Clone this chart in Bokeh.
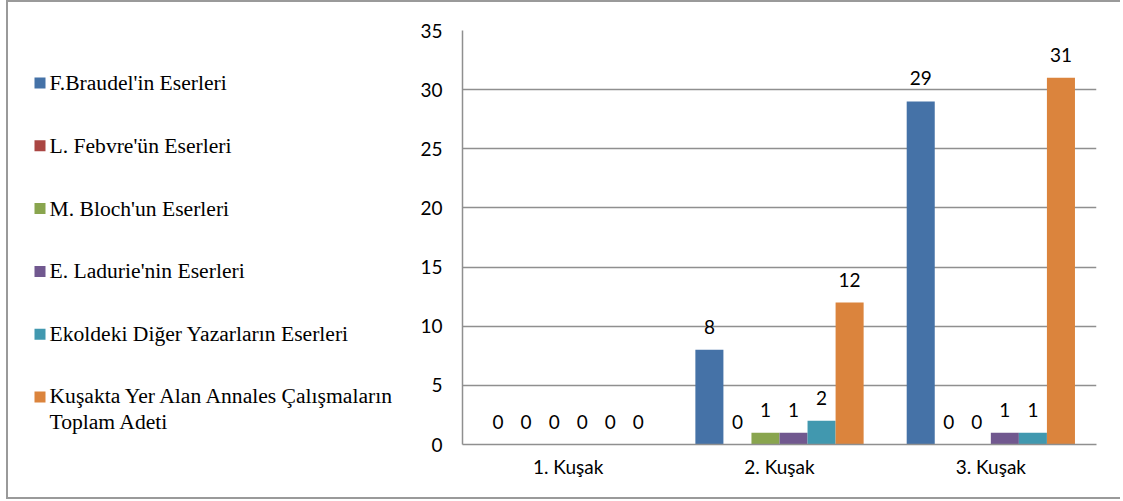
import textwrap
from bokeh.plotting import figure
from bokeh.models import ColumnDataSource, FactorRange, Range1d, FixedTicker
from bokeh.layouts import row
from bokeh.transform import dodge
from bokeh.core.properties import value
from bokeh.embed import file_html
from bokeh.resources import INLINE

# ---------------- data ----------------
categories = ["1. Kuşak", "2. Kuşak", "3. Kuşak"]
series_names = [
    "F.Braudel'in Eserleri",
    "L. Febvre'ün Eserleri",
    "M. Bloch'un Eserleri",
    "E. Ladurie'nin Eserleri",
    "Ekoldeki Diğer Yazarların Eserleri",
    "Kuşakta Yer Alan Annales Çalışmaların Toplam Adeti",
]
braudel = [0, 8, 29]
febvre = [0, 0, 0]
bloch = [0, 1, 0]
ladurie = [0, 1, 1]
diger = [0, 2, 1]
toplam = [0, 12, 31]
y_ticks = [0, 5, 10, 15, 20, 25, 30, 35]
colors = ["#4572A7", "#AA4643", "#89A54E", "#71588F", "#4198AF", "#DB843D"]

series_keys = ["braudel", "febvre", "bloch", "ladurie", "diger", "toplam"]
series_vals = [braudel, febvre, bloch, ladurie, diger, toplam]

data = {"cats": categories}
for k, v in zip(series_keys, series_vals):
    data[k] = v
    data[k + "_lbl"] = [str(x) for x in v]
source = ColumnDataSource(data)

GRAY = "#8f8f8f"
NUM_FONT = "Lato"
NUM_SIZE = "19px"

TOTAL_H = 495
BORDER_TOP = 28
BORDER_BOTTOM = 53
LW = 400
CW = 714

# ---------------- chart ----------------
p = figure(
    width=CW, height=TOTAL_H,
    x_range=FactorRange(*categories), y_range=Range1d(0, 35),
    output_backend="svg", toolbar_location=None,
    min_border_left=54, min_border_right=26,
    min_border_top=BORDER_TOP, min_border_bottom=BORDER_BOTTOM,
    outline_line_color=None,
)
p.xgrid.grid_line_color = None
p.ygrid.ticker = FixedTicker(ticks=y_ticks)
p.ygrid.grid_line_color = GRAY
p.ygrid.grid_line_width = 1.5
p.yaxis.ticker = FixedTicker(ticks=y_ticks)

for ax in (p.xaxis[0], p.yaxis[0]):
    ax.axis_line_color = GRAY
    ax.axis_line_width = 1.5
    ax.major_tick_line_color = None
    ax.minor_tick_line_color = None
    ax.major_tick_out = 0
    ax.major_tick_in = 0
    ax.major_label_text_font = NUM_FONT
    ax.major_label_text_font_size = NUM_SIZE
    ax.major_label_text_color = "#000000"
p.yaxis.major_label_standoff = 20
p.xaxis.major_label_standoff = 10

bw = 0.1327
for i, (k, c) in enumerate(zip(series_keys, colors)):
    off = (i - 2.5) * bw
    p.vbar(x=dodge("cats", off, range=p.x_range), top=k, width=bw,
           source=source, fill_color=c, line_color=None)
    p.text(x=dodge("cats", off, range=p.x_range), y=k, text=k + "_lbl",
           source=source, text_align="center", text_baseline="alphabetic",
           y_offset=-23, text_font=value(NUM_FONT), text_font_size=NUM_SIZE,
           text_color="#000000")

# ---------------- legend panel (pixel-like coordinates) ----------------
lg = figure(
    width=LW, height=TOTAL_H,
    x_range=Range1d(8, 8 + LW), y_range=Range1d(444, 30),
    output_backend="svg", toolbar_location=None,
    min_border_left=0, min_border_right=0,
    min_border_top=BORDER_TOP, min_border_bottom=BORDER_BOTTOM,
    x_axis_location=None, y_axis_location=None,
    outline_line_color=None,
)
lg.xgrid.grid_line_color = None
lg.ygrid.grid_line_color = None

LEG_SIZE = 21.6
line_h = 1.08
first_y = 82.5
step = 62.8
for i, (name, c) in enumerate(zip(series_names, colors)):
    yc = first_y + i * step
    lines = textwrap.wrap(name, 38)
    lg.rect(x=[39.5], y=[yc], width=11, height=11, fill_color=c, line_color=None)
    ytxt = yc + (len(lines) - 1) * LEG_SIZE * line_h / 2
    lg.text(x=[49], y=[ytxt], text=["\n".join(lines)],
            text_align="left", text_baseline="middle",
            text_font=value("Liberation Serif"), text_font_size=f"{LEG_SIZE}px",
            text_line_height=line_h, text_color="#000000")

layout = row(lg, p)
layout.styles = {
    "margin-left": "6px",
    "border-left": "2px solid #9a9a9a",
    "border-top": "2px solid #9a9a9a",
    "border-bottom": "2px solid #9a9a9a",
    "width": f"{LW + CW}px",
}

open("out.html", "w").write(file_html(layout, INLINE))
